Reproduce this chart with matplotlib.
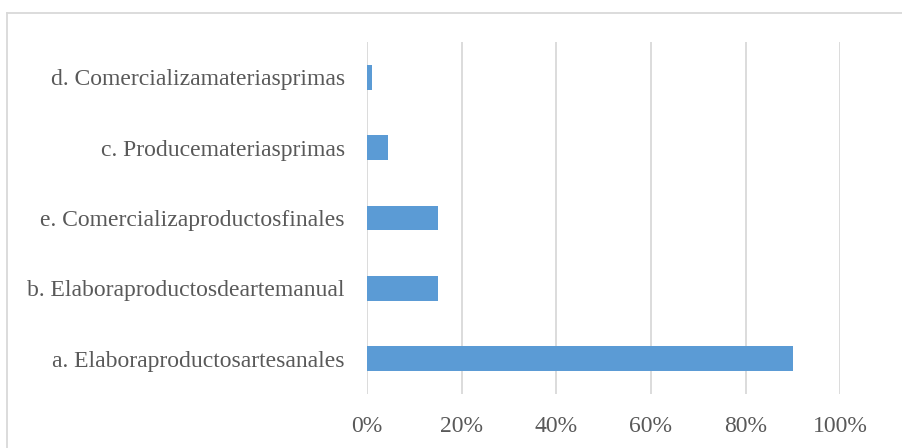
import matplotlib.pyplot as plt
from matplotlib.lines import Line2D
from matplotlib.ticker import PercentFormatter

# categories bottom to top, as shown in the chart
categories = [
    "a. Elaboraproductosartesanales",
    "b. Elaboraproductosdeartemanual",
    "e. Comercializaproductosfinales",
    "c. Producemateriasprimas",
    "d. Comercializamateriasprimas",
]
shares = [0.90, 0.15, 0.15, 0.044, 0.01]
xticks = [0, 0.2, 0.4, 0.6, 0.8, 1.0]

plt.rcParams['font.family'] = ['Liberation Serif', 'DejaVu Serif']
text_color = '#595959'
grid_color = '#d9d9d9'
bar_color = '#5b9bd5'

W, H = 902, 448
fig = plt.figure(figsize=(W / 100, H / 100), dpi=100)
ax = fig.add_axes([367 / W, 1 - 394 / H, (840.3 - 367) / W, (394 - 42) / H])

ypos = range(len(categories))
ax.barh(ypos, shares, height=0.35, color=bar_color, zorder=3)

ax.set_xlim(0, 1.0)
ax.set_ylim(-0.5, len(categories) - 0.5)
ax.set_xticks(xticks)
ax.xaxis.set_major_formatter(PercentFormatter(1.0, decimals=0))
ax.set_yticks(list(ypos))
ax.set_yticklabels(categories)
ax.tick_params(axis='both', length=0, labelsize=17, colors=text_color)
ax.tick_params(axis='y', pad=16)
ax.tick_params(axis='x', pad=15.5)
ax.grid(axis='x', color=grid_color, linewidth=1.3, zorder=0)
for s in ax.spines.values():
    s.set_visible(False)

# chart border (only top and left edges visible in the crop)
fig.add_artist(Line2D([6.5 / W, 6.5 / W], [0, 1 - 13 / H], transform=fig.transFigure,
                      color=grid_color, linewidth=1.3))
fig.add_artist(Line2D([6.5 / W, 1], [1 - 13 / H, 1 - 13 / H], transform=fig.transFigure,
                      color=grid_color, linewidth=1.3))

fig.savefig('out.png', dpi=100)
